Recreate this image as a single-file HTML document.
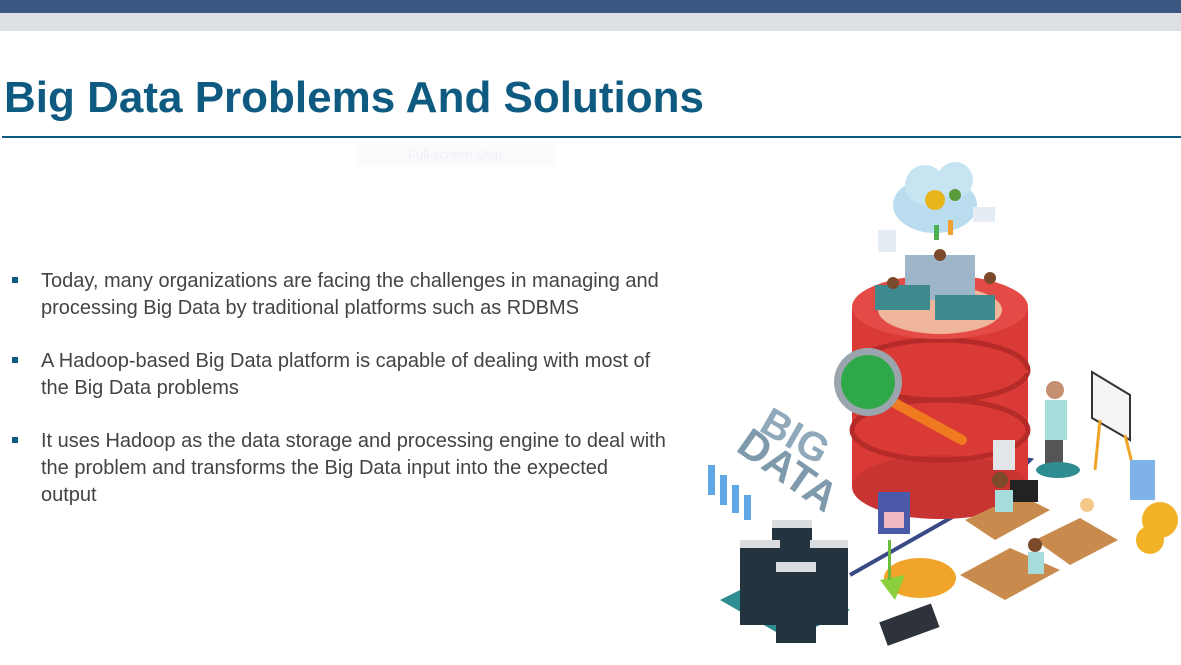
<!DOCTYPE html>
<html><head><meta charset="utf-8"><style>
body{margin:0;width:1181px;height:665px;overflow:hidden;background:#fff;font-family:"Liberation Sans",sans-serif;position:relative}
.b1{position:absolute;left:0;top:0;width:1181px;height:13px;background:#3b5680}
.b2{position:absolute;left:0;top:13px;width:1181px;height:18px;background:#dde1e4}
h1{position:absolute;left:4px;top:73px;margin:0;font-size:44px;font-weight:bold;color:#0e5a80}
.rule{position:absolute;left:2px;top:136px;width:1179px;height:2px;background:#0e5a80}
.snip{position:absolute;left:355px;top:144px;width:200px;height:22px;background:#fafbfd;color:#eef0f3;font-size:13px;text-align:center;line-height:22px}
ul{position:absolute;left:10px;top:268px;margin:0;padding:0;list-style:none;width:662px}
li{position:relative;padding-left:31px;font-size:20px;line-height:27px;color:#444;margin-bottom:26px}
li:before{content:"";position:absolute;left:2px;top:9px;width:6px;height:6px;background:#0e5a80}
</style></head><body>
<div class="b1"></div><div class="b2"></div>
<h1>Big Data Problems And Solutions</h1>
<div class="rule"></div>
<div class="snip">Full-screen Snip</div>
<ul>
<li>Today, many organizations are facing the challenges in managing and processing Big Data by traditional platforms such as RDBMS</li>
<li>A Hadoop-based Big Data platform is capable of dealing with most of the Big Data problems</li>
<li>It uses Hadoop as the data storage and processing engine to deal with the problem and transforms the Big Data input into the expected<br>output</li>
</ul>
<svg style="position:absolute;left:0;top:0" width="1181" height="665">
<ellipse cx="935" cy="205" rx="42" ry="28" fill="#b9dcef"/>
<circle cx="925" cy="185" r="20" fill="#c7e4f3"/><circle cx="955" cy="180" r="18" fill="#c7e4f3"/>
<circle cx="935" cy="200" r="10" fill="#e9b51c"/><circle cx="955" cy="195" r="6" fill="#5a9b3a"/>
<rect x="934" y="225" width="5" height="15" fill="#4caf50"/><rect x="948" y="220" width="5" height="15" fill="#f0a030"/>
<rect x="878" y="230" width="18" height="22" fill="#e6ecf3"/><rect x="973" y="207" width="22" height="15" fill="#e6ecf3"/>
<polyline points="1000,455 1030,460 1000,490 850,575" fill="none" stroke="#3a4a85" stroke-width="4"/>
<rect x="852" y="307" width="176" height="180" fill="#d93a36"/>
<ellipse cx="940" cy="487" rx="88" ry="32" fill="#c83431"/>
<ellipse cx="940" cy="370" rx="88" ry="30" fill="none" stroke="#b52b29" stroke-width="5"/>
<ellipse cx="940" cy="430" rx="88" ry="30" fill="none" stroke="#b52b29" stroke-width="5"/>
<rect x="852" y="370" width="176" height="3" fill="#d93a36"/>
<ellipse cx="940" cy="307" rx="88" ry="32" fill="#e44b46"/>
<ellipse cx="940" cy="310" rx="62" ry="24" fill="#efb59a"/>
<rect x="905" y="255" width="70" height="45" fill="#9db6c9"/>
<rect x="875" y="285" width="55" height="25" fill="#3d8a8f"/><rect x="935" y="295" width="60" height="25" fill="#3d8a8f"/>
<circle cx="940" cy="255" r="6" fill="#7a4a2a"/><circle cx="893" cy="283" r="6" fill="#7a4a2a"/><circle cx="990" cy="278" r="6" fill="#7a4a2a"/>
<rect x="993" y="440" width="22" height="30" fill="#e3e6e8"/>
<line x1="880" y1="395" x2="962" y2="440" stroke="#f07a20" stroke-width="10" stroke-linecap="round"/>
<circle cx="868" cy="382" r="34" fill="#9aa5ad"/><circle cx="868" cy="382" r="27" fill="#2fa84a"/>
<text x="755" y="440" font-size="40" font-weight="bold" fill="#8fa8ba" transform="rotate(30 775 440)">BIG</text>
<text x="722" y="470" font-size="42" font-weight="bold" fill="#7f99ad" transform="rotate(35 760 480)">DATA</text>
<rect x="708" y="465" width="7" height="30" fill="#5ea9e5"/><rect x="720" y="475" width="7" height="30" fill="#5ea9e5"/><rect x="732" y="485" width="7" height="28" fill="#5ea9e5"/><rect x="744" y="495" width="7" height="25" fill="#5ea9e5"/>
<polygon points="720,600 790,640 850,610 780,570" fill="#2e8c93"/>
<rect x="772" y="525" width="40" height="70" fill="#24343f"/><rect x="740" y="545" width="40" height="80" fill="#24343f"/><rect x="810" y="545" width="38" height="80" fill="#24343f"/><rect x="776" y="568" width="40" height="75" fill="#24343f"/>
<rect x="776" y="562" width="40" height="10" fill="#d9dde0"/><rect x="740" y="540" width="40" height="8" fill="#d9dde0"/><rect x="810" y="540" width="38" height="8" fill="#d9dde0"/><rect x="772" y="520" width="40" height="8" fill="#d9dde0"/>
<rect x="878" y="492" width="32" height="42" fill="#4a5aa8"/><rect x="884" y="512" width="20" height="16" fill="#f0b8c0"/>
<ellipse cx="920" cy="578" rx="36" ry="20" fill="#f0a428"/>
<polygon points="880,580 905,575 895,600" fill="#8ccf3c"/><rect x="888" y="540" width="3" height="40" fill="#6cbb3c"/>
<rect x="882" y="612" width="55" height="25" fill="#2e333b" transform="rotate(-20 910 625)"/>
<rect x="1045" y="400" width="22" height="40" fill="#a6dcd9"/><circle cx="1055" cy="390" r="9" fill="#c59070"/>
<rect x="1045" y="440" width="18" height="32" fill="#555"/>
<ellipse cx="1058" cy="470" rx="22" ry="8" fill="#2e8c93"/>
<polygon points="1092,372 1130,395 1130,440 1092,418" fill="#f5f5f5" stroke="#333" stroke-width="2"/>
<line x1="1100" y1="420" x2="1095" y2="470" stroke="#f0a428" stroke-width="3"/><line x1="1125" y1="435" x2="1135" y2="475" stroke="#f0a428" stroke-width="3"/>
<polygon points="965,520 1020,495 1050,510 995,540" fill="#c98a4e"/>
<polygon points="1035,540 1080,518 1118,540 1070,565" fill="#c98a4e"/>
<polygon points="960,575 1010,548 1060,570 1005,600" fill="#c98a4e"/>
<rect x="1010" y="480" width="28" height="22" fill="#222"/><circle cx="1000" cy="480" r="8" fill="#7a4a2a"/>
<rect x="995" y="490" width="18" height="22" fill="#a6dcd9"/>
<circle cx="1035" cy="545" r="7" fill="#7a4a2a"/><rect x="1028" y="552" width="16" height="22" fill="#a6dcd9"/>
<circle cx="1087" cy="505" r="7" fill="#f3c98a"/>
<rect x="1130" y="460" width="25" height="40" fill="#7fb3e8"/>
<circle cx="1160" cy="520" r="18" fill="#f3b326"/><circle cx="1150" cy="540" r="14" fill="#f3b326"/>
</svg>
</body></html>
